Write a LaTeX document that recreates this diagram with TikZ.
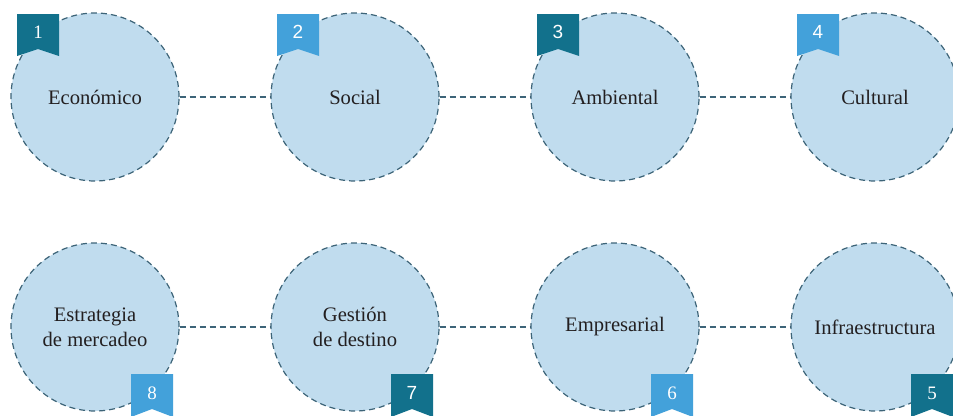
\documentclass[tikz,border=0pt]{standalone}
\usepackage{fontspec}
\setmainfont{Liberation Serif}
\newfontfamily\numsans{Liberation Sans}
\begin{document}
\begin{tikzpicture}[x=1pt,y=-1pt,
  circ/.style={circle,minimum size=168pt,inner sep=0pt,fill=circfill,draw=dashcol,dashed,
    dash pattern=on 6pt off 4pt,line width=1.2pt,align=center,text=txt,
    font=\fontsize{20.6}{25}\selectfont},
  conn/.style={draw=dashcol,dash pattern=on 6pt off 4pt,line width=1.2pt},
  dark/.style={fill=badgedark},
  light/.style={fill=badgelight},
  num/.style={text=white,inner sep=0pt,font=\fontsize{19}{20}\selectfont}]
\definecolor{circfill}{HTML}{C0DCEE}
\definecolor{dashcol}{HTML}{3D6478}
\definecolor{badgedark}{HTML}{12718C}
\definecolor{badgelight}{HTML}{43A1DA}
\definecolor{txt}{HTML}{231F20}
\useasboundingbox (0,0) rectangle (953,415);
\clip (0,0) rectangle (953,415);
% top row
\node[circ] (c1) at (95,97) {Económico};
\node[circ] (c2) at (355,97) {Social};
\node[circ] (c3) at (615,97) {Ambiental};
\node[circ] (c4) at (875,97) {Cultural};
% bottom row
\node[circ] (c8) at (95,327) {Estrategia\\de mercadeo};
\node[circ] (c7) at (355,327) {Gestión\\de destino};
\node[circ] (c6) at (615,327) {Empresarial};
\node[circ] (c5) at (875,327) {Infraestructura};
% connectors
\draw[conn] (c1) -- (c2);
\draw[conn] (c2) -- (c3);
\draw[conn] (c3) -- (c4);
\draw[conn] (c8) -- (c7);
\draw[conn] (c7) -- (c6);
\draw[conn] (c6) -- (c5);
% top badges
\foreach \cx/\st/\n/\f in {95/dark/1/\rmfamily, 355/light/2/\numsans, 615/dark/3/\numsans, 875/light/4/\numsans}{
  \path[\st] (\cx-78,14) -- (\cx-36,14) -- (\cx-36,56) -- (\cx-57,49) -- (\cx-78,56) -- cycle;
  \node[num,font=\fontsize{19}{20}\selectfont\f] (b\n) at (\cx-57,32) {\n};
}
% bottom badges
\foreach \cx/\st/\n/\f in {95/light/8/\rmfamily, 355/dark/7/\numsans, 615/light/6/\rmfamily, 875/dark/5/\rmfamily}{
  \path[\st] (\cx+36,374) -- (\cx+78,374) -- (\cx+78,417) -- (\cx+57,409) -- (\cx+36,417) -- cycle;
  \node[num,font=\fontsize{19}{20}\selectfont\f] (b\n) at (\cx+57,393) {\n};
}
\end{tikzpicture}
\end{document}
